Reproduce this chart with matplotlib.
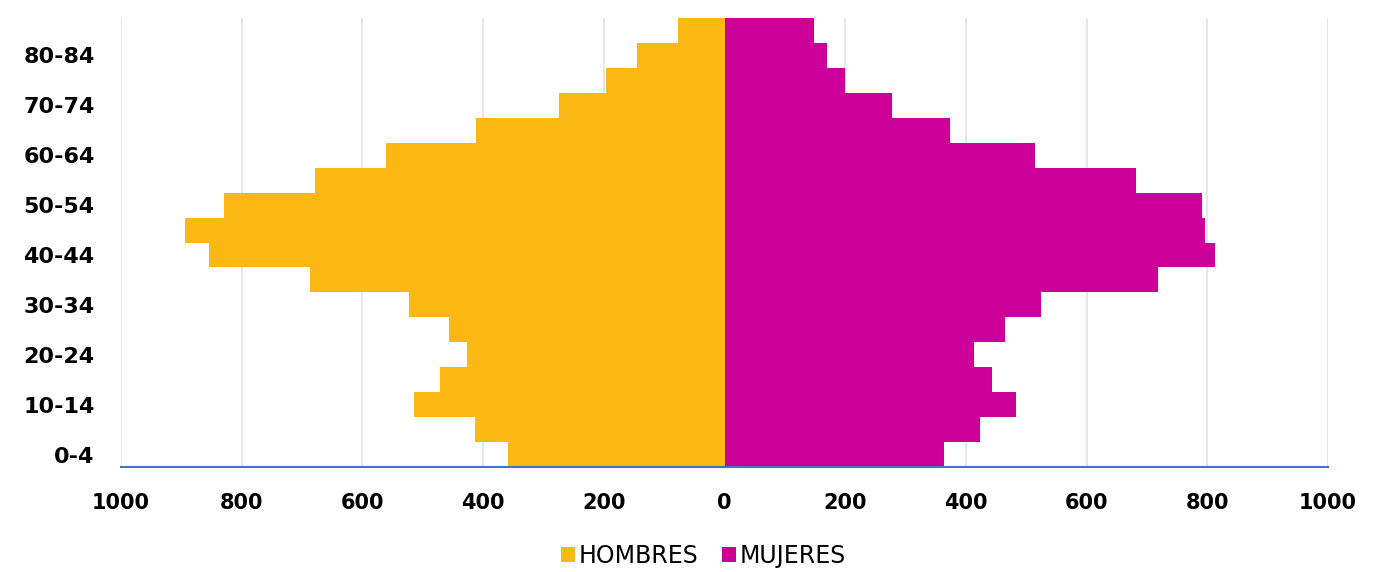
import matplotlib
matplotlib.use("Agg")
import matplotlib.pyplot as plt
import numpy as np

age_groups = ["0-4", "5-9", "10-14", "15-19", "20-24", "25-29", "30-34", "35-39",
              "40-44", "45-49", "50-54", "55-59", "60-64", "65-69", "70-74",
              "75-79", "80-84", "85+"]
hombres = [358, 414, 515, 472, 427, 457, 523, 687, 855, 894, 830, 678, 561, 411,
           274, 196, 145, 77]
mujeres = [363, 423, 483, 443, 413, 464, 524, 719, 812, 796, 792, 682, 515, 374,
           278, 199, 170, 148]
x_ticks = [-1000, -800, -600, -400, -200, 0, 200, 400, 600, 800, 1000]
x_tick_labels = ["1000", "800", "600", "400", "200", "0", "200", "400", "600", "800", "1000"]

c_h = "#FDB913"
c_m = "#CC0099"

fig = plt.figure(figsize=(13.99, 5.72), dpi=100)
ax = fig.add_axes([121/1399, 1 - 467/572, (1328-121)/1399, (467-18)/572])

y = np.arange(len(age_groups))
ax.barh(y, [-v for v in hombres], height=1.0, color=c_h, label="HOMBRES", zorder=3)
ax.barh(y, mujeres, height=1.0, color=c_m, label="MUJERES", zorder=3)

ax.set_xlim(-1000, 1000)
ax.set_ylim(-0.5, len(age_groups) - 0.5)
ax.set_xticks(x_ticks)
ax.set_xticklabels(x_tick_labels, fontsize=15, fontweight="bold")
ax.set_yticks(y)
ax.set_yticklabels([g if i % 2 == 0 else "" for i, g in enumerate(age_groups)],
                   fontsize=16, fontweight="bold")
ax.tick_params(axis="x", length=0, pad=19)
ax.tick_params(axis="y", length=0, pad=19)

ax.grid(axis="x", color="#DDE1EA", linewidth=1.2, zorder=0)
ax.grid(axis="y", visible=False)
for s in ["top", "left", "right"]:
    ax.spines[s].set_visible(False)
ax.spines["bottom"].set_color("#4472C4")
ax.spines["bottom"].set_linewidth(1.5)
ax.spines["bottom"].set_zorder(4)

fig.legend(loc="lower center", bbox_to_anchor=(0.503, -0.03), ncol=2, frameon=False,
           fontsize=17, handlelength=0.6, handleheight=0.6, handletextpad=0.15,
           columnspacing=1.0)

fig.savefig("out.png", dpi=100)
